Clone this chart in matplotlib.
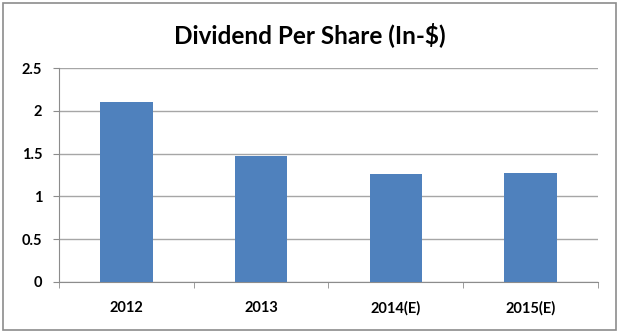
import matplotlib
matplotlib.use("Agg")
import matplotlib.pyplot as plt
from matplotlib.patches import Rectangle
import numpy as np

categories = ["2012", "2013", "2014(E)", "2015(E)"]
dividends = [2.10, 1.47, 1.26, 1.27]
yticks = [0, 0.5, 1, 1.5, 2, 2.5]
ytick_labels = ["0", "0.5", "1", "1.5", "2", "2.5"]

plt.rcParams["font.family"] = ["Lato", "DejaVu Sans"]

fig = plt.figure(figsize=(6.19, 3.34), dpi=100)
fig.patch.set_facecolor("white")
fig.patches.append(Rectangle((0.005, 0.012), 0.99, 0.978, transform=fig.transFigure,
                             fill=False, edgecolor="#8c8c8c", linewidth=1.2))

ax = fig.add_axes([0.0953, 0.1557, 0.8707, 0.6403])
x = np.arange(len(categories))
ax.bar(x, dividends, width=0.39, color="#4f81bd", zorder=3)

ax.set_xlim(-0.5, len(categories) - 0.5)
ax.set_ylim(0, 2.5)
ax.set_yticks(yticks)
ax.set_yticklabels(ytick_labels, fontsize=10.5, fontweight="bold")
ax.set_xticks(x)
ax.set_xticklabels(categories, fontsize=10.5, fontweight="bold")
ax.tick_params(axis="x", length=0, pad=14)
ax.tick_params(axis="y", length=4, color="#8c8c8c", pad=8)
ax.set_xticks(np.arange(-0.5, len(categories)), minor=True)
ax.tick_params(axis="x", which="minor", length=4, color="#8c8c8c", direction="out")

ax.yaxis.grid(True, color="#a6a6a6", linewidth=1.0, zorder=0)
for side in ["top", "right"]:
    ax.spines[side].set_visible(False)
for side in ["left", "bottom"]:
    ax.spines[side].set_color("#8c8c8c")
ax.set_axisbelow(True)

fig.text(0.5, 0.895, "Dividend Per Share (In-$)", ha="center", va="center",
         fontsize=17.5, fontweight="bold")

fig.savefig("out.png", dpi=100)
